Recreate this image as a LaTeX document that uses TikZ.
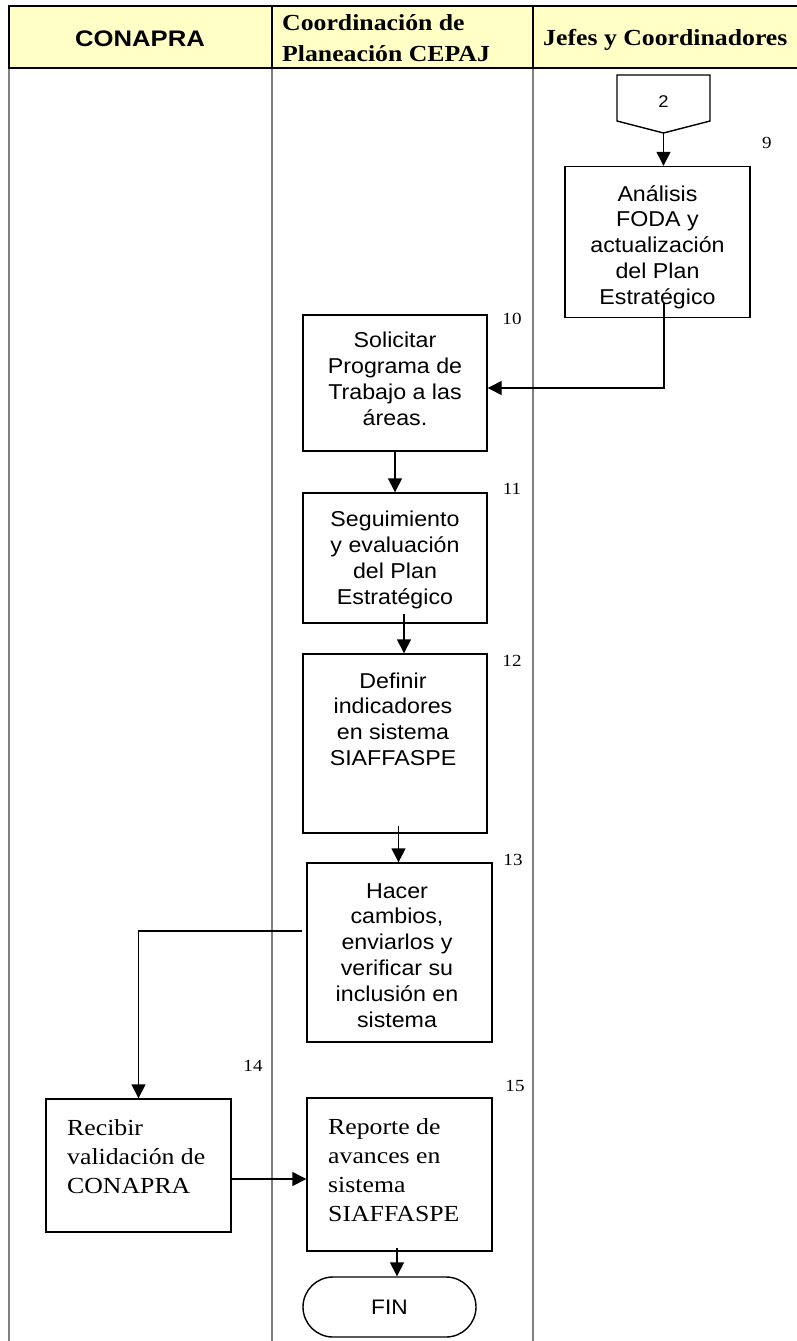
\documentclass[tikz,border=0pt]{standalone}
\usepackage{fontspec}
\usetikzlibrary{arrows.meta,calc}
\newfontfamily\hsans[FakeStretch=1.14]{Liberation Sans}
\newfontfamily\hserif[FakeStretch=1.12]{Liberation Serif}
\newfontfamily\bsans[FakeStretch=1.08]{Liberation Sans}
\newfontfamily\bserif[FakeStretch=1.12]{Liberation Serif}
\definecolor{hdr}{RGB}{255,255,198}
\definecolor{lane}{RGB}{128,128,128}
\newcommand\mytxtc[1]{\parbox[t]{200pt}{\centering #1}}
\newcommand\mytxtl[1]{\parbox[t]{180pt}{\raggedright #1}}
\newcommand\mytxth[1]{\parbox[t]{245pt}{\raggedright #1}}
\begin{document}
\begin{tikzpicture}[x=1pt,y=-1pt,
  pbox/.style={draw, line width=1.4pt, inner sep=0pt},
  btxt/.style={inner sep=0pt, anchor=base, font=\bsans\fontsize{21.5}{25.8}\selectfont},
  stxt/.style={inner sep=0pt, anchor=base west, font=\bserif\fontsize{23}{29}\selectfont},
  num/.style={inner sep=0pt, font=\bserif\fontsize{17}{17}\selectfont},
  conn/.style={line width=1.4pt, -{Triangle[length=14pt,width=14pt]}},
  lanel/.style={lane, line width=1.8pt},
]
\useasboundingbox (0,0) rectangle (796,1341);
% lanes
\draw[lanel] (9,68) -- (9,1341);
\draw[lanel] (272,68) -- (272,1341);
\draw[lanel] (533,68) -- (533,1341);
% header
\draw[fill=hdr, line width=2.5pt] (9,6) rectangle (812,68);
\draw[line width=2.5pt] (272,6) -- (272,68);
\draw[line width=2.5pt] (533,6) -- (533,68);
\node[anchor=base, inner sep=0pt, font=\hsans\bfseries\fontsize{22.5}{27}\selectfont] (h1) at (140,46.7) {CONAPRA};
\node[anchor=base west, inner sep=0pt, font=\hserif\bfseries\fontsize{23}{31}\selectfont] (h2) at (282,30.7) {\mytxth{Coordinación de\\Planeación CEPAJ}};
\node[anchor=base west, inner sep=0pt, font=\hserif\bfseries\fontsize{23}{31}\selectfont] (h3) at (543,45) {Jefes y Coordinadores};
% off-page connector
\draw[line width=1.4pt] (617,75) -- (710,75) -- (710,121) -- (663.5,133) -- (617,121) -- cycle;
\node[inner sep=0pt, font=\bsans\fontsize{17}{17}\selectfont] (p2) at (663.5,102) {2};
\coordinate (p2tip) at (663.5,133);
% boxes
\node[pbox, minimum width=185pt, minimum height=151pt] (b9) at (657.5,242) {};
\node[pbox, minimum width=184pt, minimum height=136pt] (b10) at (395,383) {};
\node[pbox, minimum width=184pt, minimum height=130pt] (b11) at (395,558) {};
\node[pbox, minimum width=184pt, minimum height=179pt] (b12) at (395,743.5) {};
\node[pbox, minimum width=185pt, minimum height=179pt] (b13) at (399.5,952.5) {};
\node[pbox, minimum width=185pt, minimum height=133pt] (b14) at (138.5,1165.5) {};
\node[pbox, minimum width=185pt, minimum height=153pt] (b15) at (399.5,1174.5) {};
\node[draw, line width=1.4pt, inner sep=0pt, minimum width=173pt, minimum height=60pt, rounded corners=30pt,
      font=\bsans\fontsize{21}{21}\selectfont] (fin) at (389.5,1307) {FIN};
% texts
\node[btxt] (t9) at (657.5,201) {\mytxtc{Análisis\\FODA y\\actualización\\del Plan\\Estratégico}};
\node[btxt] (t10) at (395,347.7) {\mytxtc{Solicitar\\Programa de\\Trabajo a las\\áreas.}};
\node[btxt] (t11) at (395,526.7) {\mytxtc{Seguimiento\\y evaluación\\del Plan\\Estratégico}};
\node[btxt] (t12) at (393,688) {\mytxtc{Definir\\indicadores\\en sistema\\SIAFFASPE}};
\node[btxt] (t13) at (397,898) {\mytxtc{Hacer\\cambios,\\enviarlos y\\verificar su\\inclusión en\\sistema}};
\node[stxt] (t14) at (67,1135) {\mytxtl{Recibir\\validación de\\CONAPRA}};
\node[stxt] (t15) at (328,1134) {\mytxtl{Reporte de\\avances en\\sistema\\SIAFFASPE}};
% numbers
\node[num] (n9) at (767,143) {9};
\node[num] (n10) at (512,319) {10};
\node[num] (n11) at (512,489) {11};
\node[num] (n12) at (512,661) {12};
\node[num] (n13) at (513,860) {13};
\node[num] (n14) at (253,1066) {14};
\node[num] (n15) at (515,1086) {15};
% connectors
\draw[conn] (p2tip) -- (p2tip |- b9.north);
\draw[conn] ($(b9.south)+(6.5,-15)$) |- ($(b10.east)+(0,5)$);
\draw[conn] (b10.south) -- (b11.north);
\draw[conn] ($(b11.south)+(9,-10)$) -- ($(b12.north)+(9,0)$);
\draw[conn] ($(b12.south)+(3.5,-8)$) -- ($(b13.north)+(-1,0)$);
\draw[conn, shorten <=4pt] ($(b13.west)+(0,-21.5)$) -| (b14.north);
\coordinate (a14) at ($(b14.east)+(0,13.5)$);
\draw[conn] (a14) -- (a14 -| b15.west);
\draw[conn] ($(b15.south)+(-2.5,-4)$) -- ($(fin.north)+(7.5,0)$);
\end{tikzpicture}
\end{document}
